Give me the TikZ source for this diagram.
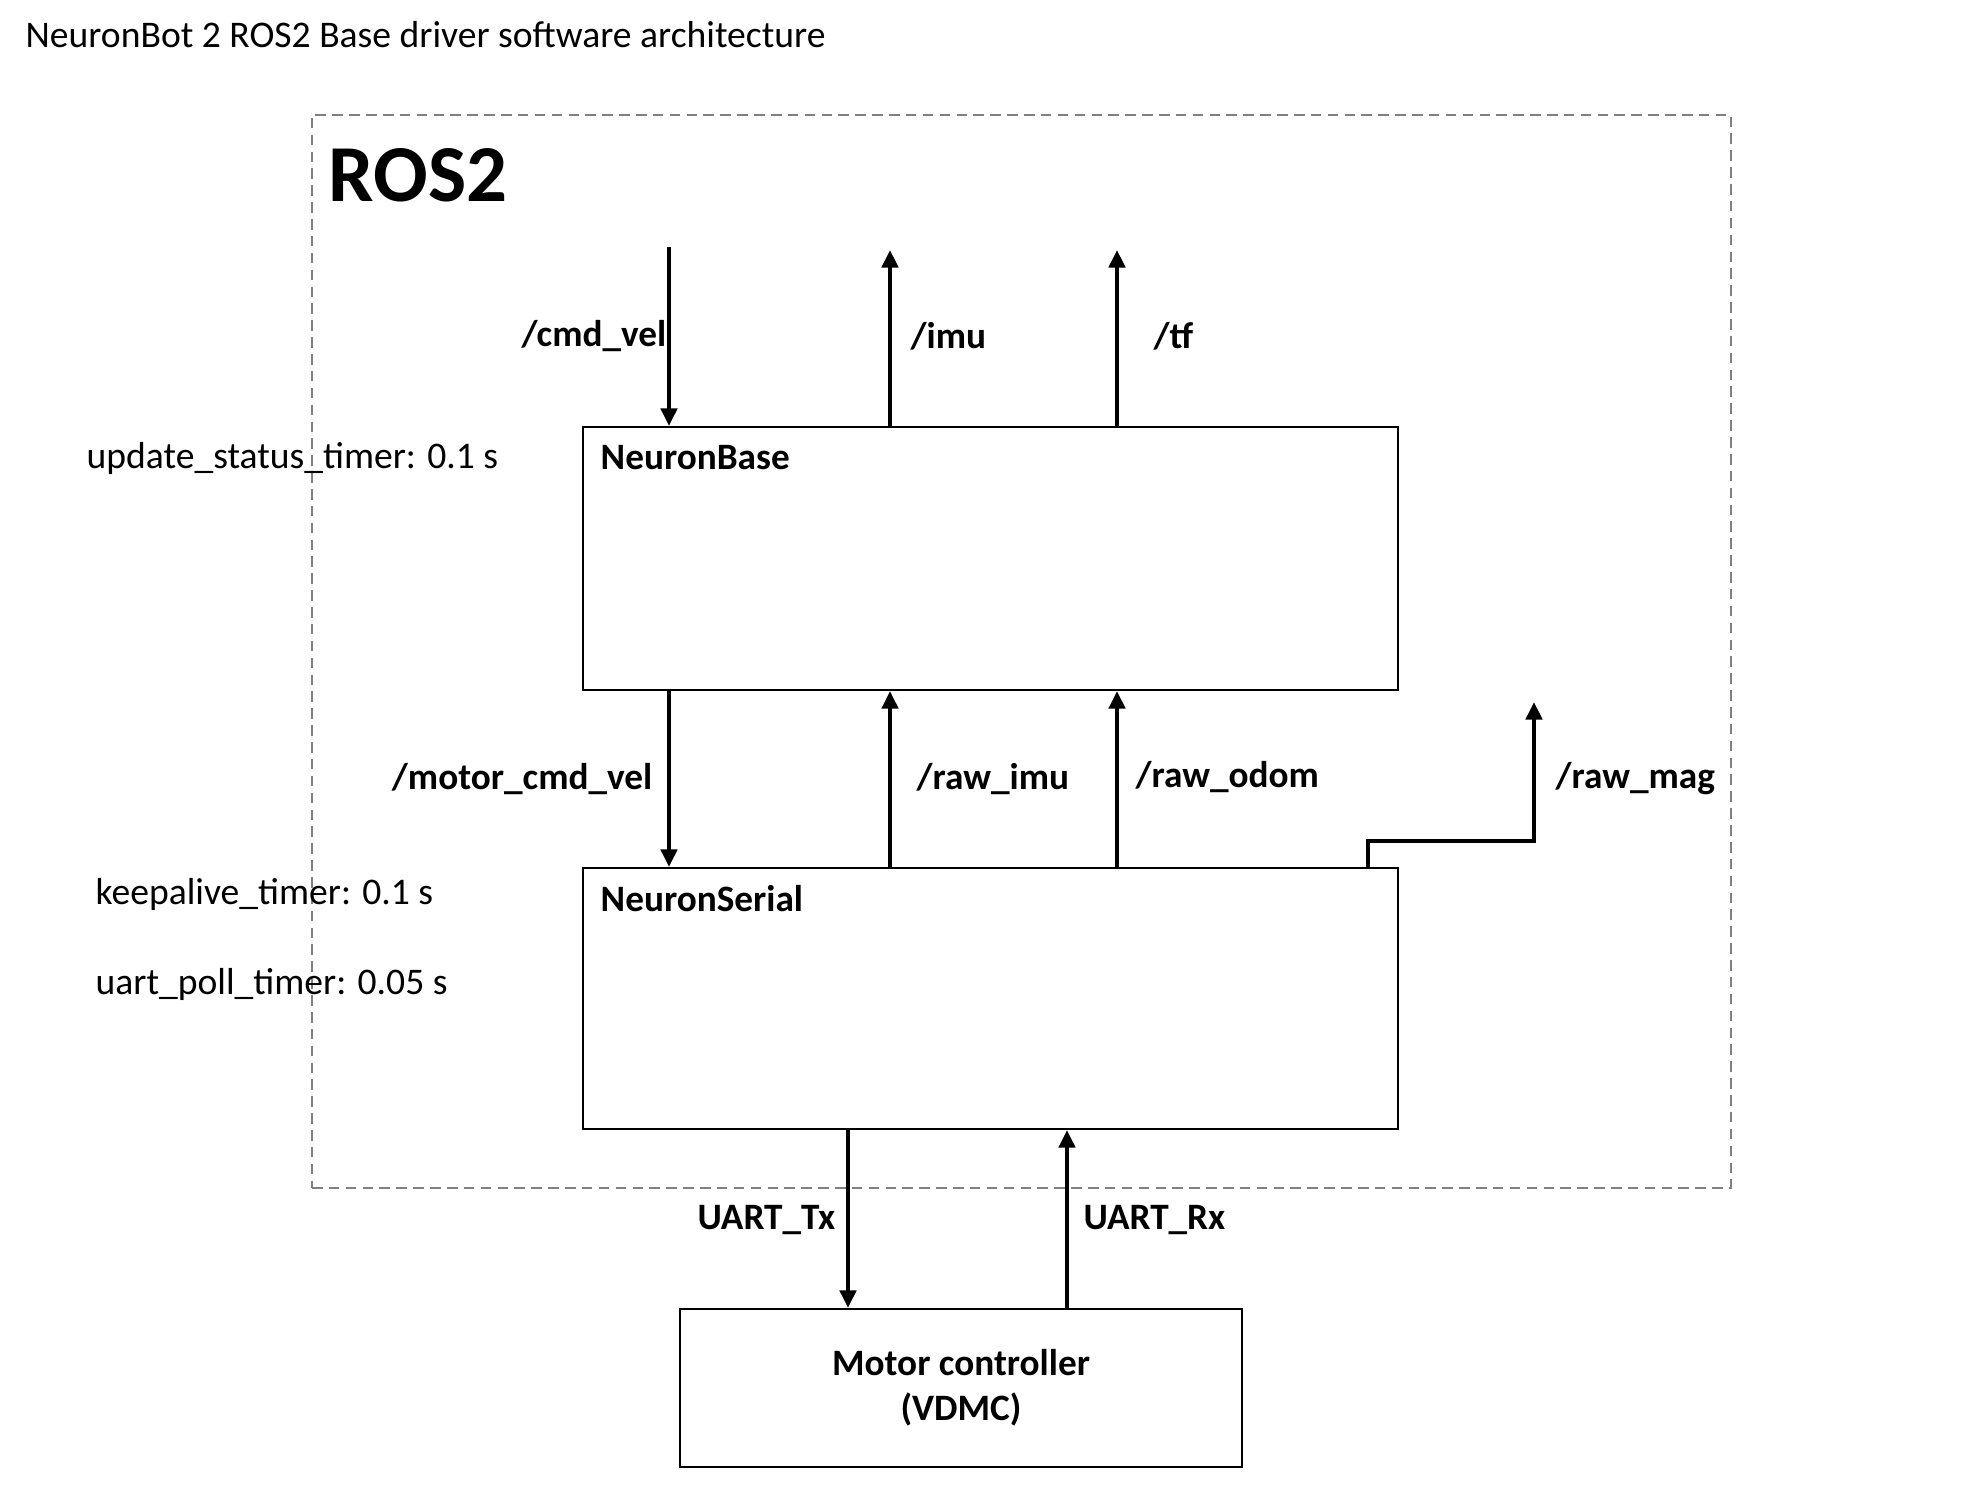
\documentclass[tikz,border=0pt]{standalone}
\usepackage{fontspec}
\setmainfont{Carlito}
\usetikzlibrary{arrows.meta,positioning,calc}
\tikzset{
	block/.style={rectangle,draw,line width=0.6pt,fill=white,inner sep=0},
	frame/.style={rectangle,draw=black!50,line width=0.6pt,dash pattern=on 3pt off 1.8pt},
	topic/.style={font=\fontsize{10.6}{12}\selectfont\bfseries,inner sep=0},
	plain/.style={font=\fontsize{10.7}{12}\selectfont,inner sep=0},
	diredge/.style={-{Triangle[width=4.6pt,length=5pt]},line width=1.15pt,color=black},
	boxname/.style={font=\fontsize{10.6}{12}\selectfont\bfseries,inner sep=0,anchor=west}
}
\begin{document}
\begin{tikzpicture}
		\useasboundingbox (0,0) rectangle (19.63,-14.87);
		
		\node[plain,anchor=west] (title) at (0.25,-0.35) {NeuronBot 2 ROS2 Base driver software architecture};
		
		\node[frame,minimum width=14.19cm,minimum height=10.73cm] (ros) at (10.215,-6.515) {};
		\node[font=\fontsize{23}{26}\selectfont\bfseries,inner sep=0,anchor=west] (roslabel) at (3.28,-1.75) {ROS2};
		
		\node[block,minimum width=8.15cm,minimum height=2.63cm] (base) at (9.905,-5.585) {};
		\node[block,minimum width=8.15cm,minimum height=2.61cm] (serial) at (9.905,-9.985) {};
		\node[block,minimum width=5.62cm,minimum height=1.58cm,align=center,font=\fontsize{10.6}{12.8}\selectfont\bfseries] (motor) at (9.61,-13.88) {Motor controller\\(VDMC)};
		
		\node[boxname] (basename) at (6.0,-4.58) {NeuronBase};
		\node[boxname] (serialname) at (6.0,-8.99) {NeuronSerial};
		
		\node[plain,anchor=west] (statustimer) at (0.86,-4.58) {update\_status\_timer: 0.1 s};
		\node[plain,anchor=west] (keeptimer) at (0.95,-8.94) {keepalive\_timer: 0.1 s};
		\node[plain,anchor=west] (polltimer) at (0.95,-9.84) {uart\_poll\_timer: 0.05 s};
		
		% free ends of the topics
		\coordinate (cmdin) at (6.69,-2.47);
		\coordinate (imuout) at (8.90,-2.50);
		\coordinate (tfout) at (11.17,-2.50);
		\coordinate (magout) at (15.34,-7.02);
		
		\draw[diredge] (cmdin) -- (cmdin |- base.north);
		\draw[diredge] (imuout |- base.north) -- (imuout);
		\draw[diredge] (tfout |- base.north) -- (tfout);
		
		\draw[diredge] (cmdin |- base.south) -- (cmdin |- serial.north);
		\draw[diredge] (imuout |- serial.north) -- (imuout |- base.south);
		\draw[diredge] (tfout |- serial.north) -- (tfout |- base.south);
		\draw[diredge] (serial.north -| 13.68,0) -- ++(0,0.26) -| (magout);
		
		\draw[diredge] (serial.south -| 8.48,0) -- (motor.north -| 8.48,0);
		\draw[diredge] (motor.north -| 10.67,0) -- (serial.south -| 10.67,0);
		
		\node[topic,anchor=east] (cmdlabel) at (6.67,-3.36) {/cmd\_vel};
		\node[topic,anchor=west] (imulabel) at (9.10,-3.36) {/imu};
		\node[topic,anchor=west] (tflabel) at (11.53,-3.36) {/tf};
		\node[topic,anchor=east] (motorcmdlabel) at (6.53,-7.79) {/motor\_cmd\_vel};
		\node[topic,anchor=west] (rawimulabel) at (9.16,-7.79) {/raw\_imu};
		\node[topic,anchor=west] (rawodomlabel) at (11.35,-7.77) {/raw\_odom};
		\node[topic,anchor=west] (rawmaglabel) at (15.55,-7.79) {/raw\_mag};
		\node[topic,anchor=east] (txlabel) at (8.36,-12.20) {UART\_Tx};
		\node[topic,anchor=west] (rxlabel) at (10.83,-12.20) {UART\_Rx};
	\end{tikzpicture}
\end{document}
